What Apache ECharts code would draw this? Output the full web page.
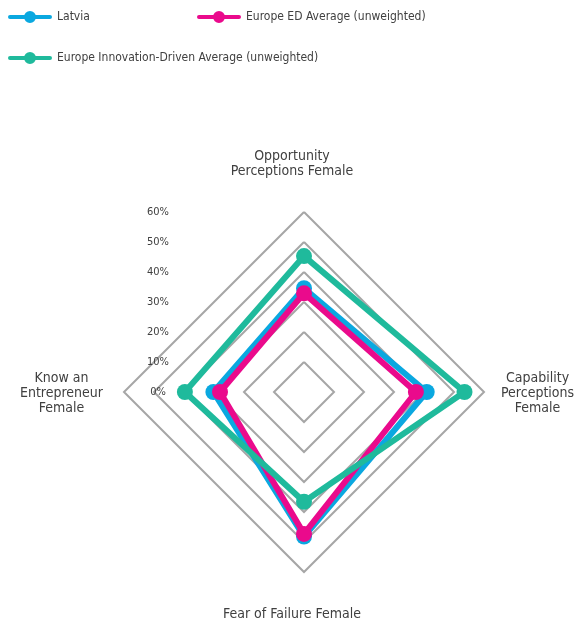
<!DOCTYPE html>
<html>
<head>
<meta charset="utf-8">
<script src="https://cdn.jsdelivr.net/npm/echarts@6/dist/echarts.min.js"></script>
<style>
html,body{margin:0;padding:0;background:#fff;}
#chart{width:588px;height:625px;}
</style>
</head>
<body>
<div id="chart"></div>
<script>
// Indicators in ECharts (counter-clockwise) order from top
var indicators = ['Opportunity\nPerceptions Female', 'Know an\nEntrepreneur\nFemale', 'Fear of Failure Female', 'Capability\nPerceptions\nFemale'];
var seriesNames = ['Latvia', 'Europe ED Average (unweighted)', 'Europe Innovation-Driven Average (unweighted)'];
var latvia = [34.6, 30.2, 48.2, 40.9];
var edAverage = [32.9, 28.0, 47.3, 37.3];
var innovationAverage = [45.3, 39.7, 36.6, 53.5];
var tickValues = [0, 10, 20, 30, 40, 50, 60];
var colors = ['#0AA8E0', '#EA0A8C', '#1FBA9C'];

var FONT = '"Liberation Sans Narrow", "DejaVu Sans Condensed", "Arial Narrow", sans-serif';
var TXT = '#404040';
var LEGEND_ICON = 'path://M2,4 L42,4 A2,2 0 0,1 42,8 L2,8 A2,2 0 0,1 2,4 Z M16,6 A6,6 0 1,1 28,6 A6,6 0 1,1 16,6 Z';

var chart = echarts.init(document.getElementById('chart'), null, {renderer: 'canvas'});

function nameFormatter(name) {
  var lines = name.split('\n');
  var isVert = name.indexOf('Opportunity') === 0 || name.indexOf('Fear') === 0;
  return lines.map(function (l) { return (isVert ? '{tb|' : '{c|') + l + '}'; }).join('\n');
}

var dataSets = [latvia, edAverage, innovationAverage];
var series = seriesNames.map(function (n, i) {
  return {
    name: n,
    type: 'radar',
    symbol: 'circle',
    symbolSize: 16,
    z: 2 + i,
    lineStyle: {width: 6, color: colors[i]},
    itemStyle: {color: colors[i]},
    data: [{value: dataSets[i], name: n}]
  };
});

var legendBase = {
  icon: LEGEND_ICON,
  itemWidth: 44, itemHeight: 12, itemGap: 10, padding: 0,
  textStyle: {fontFamily: FONT, fontSize: 12, color: TXT}
};

var option = {
  backgroundColor: '#fff',
  animation: false,
  color: colors,
  legend: [
    Object.assign({}, legendBase, {data: [seriesNames[0]], left: 8, top: 11}),
    Object.assign({}, legendBase, {data: [seriesNames[1]], left: 197, top: 11}),
    Object.assign({}, legendBase, {data: [seriesNames[2]], left: 8, top: 52})
  ],
  grid: {left: 180, top: 212, width: 1, height: 180},
  xAxis: {type: 'value', show: false},
  yAxis: {
    type: 'value', min: 0, max: 60, interval: 10,
    axisLine: {show: false}, axisTick: {show: false}, splitLine: {show: false},
    axisLabel: {formatter: '{value}%', align: 'center', margin: 22, fontFamily: FONT, fontSize: 11, color: TXT}
  },
  radar: {
    center: [304, 392],
    radius: 180,
    startAngle: 90,
    shape: 'polygon',
    splitNumber: 6,
    indicator: indicators.map(function (n) { return {name: n, min: 0, max: 60}; }),
    nameGap: 17,
    axisName: {
      formatter: nameFormatter,
      color: TXT, fontFamily: FONT, fontSize: 14, lineHeight: 15,
      padding: [18, 0, 16, 0],
      rich: {
        tb: {fontFamily: FONT, fontSize: 14, color: TXT, lineHeight: 15, padding: [0, 24, 0, 0], align: 'center'},
        c: {fontFamily: FONT, fontSize: 14, color: TXT, lineHeight: 15, padding: [0, 4, 0, 0], align: 'center'}
      }
    },
    axisLine: {show: false},
    axisTick: {show: false},
    axisLabel: {show: false},
    splitArea: {show: false},
    splitLine: {lineStyle: {color: '#A6A6A6', width: 2}}
  },
  series: series
};
chart.setOption(option);
</script>
</body>
</html>
